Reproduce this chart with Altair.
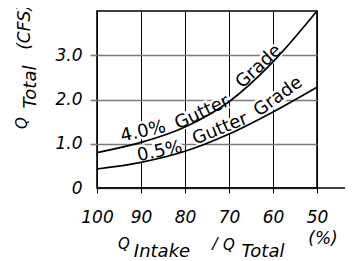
import altair as alt
import pandas as pd

# ---- data ----
intake_pct = [100, 90, 80, 70, 60, 50]
q_grade_4_0 = [0.80, 1.03, 1.38, 1.95, 2.85, 4.0]
q_grade_0_5 = [0.43, 0.58, 0.83, 1.22, 1.72, 2.28]
x_ticks = [100, 90, 80, 70, 60, 50]
y_ticks = [0, 1, 2, 3]
label_words = ["4.0%", "Gutter", "Grade", "0.5%", "Gutter", "Grade"]
label_x = [89.5, 76.1, 63.2, 85.7, 72.0, 58.8]
label_y = [1.27, 1.70, 2.74, 0.82, 1.33, 2.06]
label_angle = [347, 335, 317, 348, 338, 324]

FONT = "DejaVu Sans"
W, H = 220, 177

curves = pd.DataFrame({
    "intake": intake_pct * 2,
    "q": q_grade_4_0 + q_grade_0_5,
    "grade": ["4.0%"] * 6 + ["0.5%"] * 6,
})
labels = pd.DataFrame({"word": label_words, "intake": label_x, "q": label_y,
                       "angle": label_angle})

xscale = alt.Scale(domain=[100, 50], nice=False, zero=False)
yscale = alt.Scale(domain=[0, 4], nice=False)

x_axis = alt.Axis(values=x_ticks, grid=True, gridColor="black", gridWidth=1,
                  gridOpacity=1, domain=False, ticks=True, tickColor="black",
                  tickSize=5, tickWidth=1, labelFont=FONT, labelFontSize=17,
                  labelFontStyle="italic", labelColor="black", labelPadding=16,
                  labelFlush=False, labelOverlap=False, labelBound=False,
                  title=None)
y_axis = alt.Axis(values=y_ticks, grid=True, gridColor="#7a7a7a", gridWidth=1.6,
                  gridOpacity=1, domain=False, tickColor="#7a7a7a", tickSize=7,
                  tickWidth=1.6,
                  tickOpacity={"condition": {"test": "datum.value === 0", "value": 0}, "value": 1},
                  labelFont=FONT, labelFontSize=17, labelFontStyle="italic",
                  labelColor="black", labelPadding=8, labelFlush=False,
                  labelOverlap=False,
                  labelExpr="datum.value == 0 ? '0' : format(datum.value, '.1f')",
                  title=None)

X = alt.X("intake:Q", scale=xscale, axis=x_axis)
Y = alt.Y("q:Q", scale=yscale, axis=y_axis)

lines = alt.Chart(curves).mark_line(color="black", strokeWidth=1.7,
                                    interpolate="monotone").encode(
    x=X, y=Y, detail="grade:N")

halo = alt.Chart(labels).mark_text(font=FONT, fontSize=18, color="white",
                                   stroke="white", strokeWidth=5,
                                   align="center", baseline="middle").encode(
    x=X, y=Y, text="word:N", angle=alt.Angle("angle:Q", scale=None))
words = alt.Chart(labels).mark_text(font=FONT, fontSize=18, color="black",
                                    align="center", baseline="middle").encode(
    x=X, y=Y, text="word:N", angle=alt.Angle("angle:Q", scale=None))

one = pd.DataFrame({"a": [0]})
base_rule = alt.Chart(one).mark_rule(color="black", strokeWidth=1.6).encode(
    x=alt.value(0), x2=alt.value(260), y=alt.value(H))

def t(txt, x, y, angle=0, size=17):
    return alt.Chart(one).mark_text(text=txt, font=FONT, fontSize=size,
                                    fontStyle="italic", color="black",
                                    align="center", baseline="middle",
                                    angle=angle).encode(x=alt.value(x), y=alt.value(y))

titles = [
    t("Q", -75, 112, 270, 15),
    t("Total", -66, 76, 270, 18),
    t("(CFS)", -72, 16, 270, 17),
    t("Q", 27, 233, 0, 15),
    t("Intake", 65, 241, 0, 18),
    t("/", 118, 233, 0, 16),
    t("Q", 132, 234, 0, 15),
    t("Total", 166, 241, 0, 18),
    t("(%)", 226, 228, 0, 17),
]

chart = alt.layer(halo, lines, words, base_rule, *titles).properties(
    width=W, height=H,
    autosize=alt.AutoSizeParams(type="none"),
    padding={"left": 89, "top": 3, "right": 28, "bottom": 73},
).configure_view(stroke="black", strokeWidth=1.6)

chart.save("out.html", embed_options={"renderer": "svg", "actions": False})
